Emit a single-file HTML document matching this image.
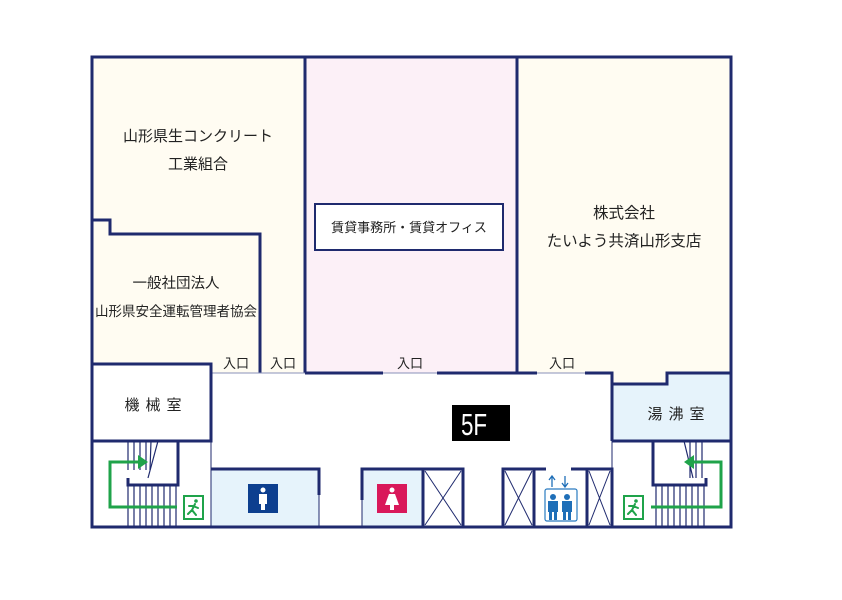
<!DOCTYPE html>
<html><head><meta charset="utf-8"><style>
body{margin:0;background:#fff}
svg text{font-family:"Liberation Sans","Noto Sans CJK JP",sans-serif;fill:#222}
</style></head><body>
<svg width="842" height="595" viewBox="0 0 842 595" xmlns="http://www.w3.org/2000/svg">
<rect x="92" y="57" width="213" height="316" fill="#fffcf2"/>
<rect x="305" y="57" width="212" height="316" fill="#fcf0f7"/>
<polygon points="517,57 731,57 731,373 667,373 667,384 612,384 612,373 517,373" fill="#fffcf2"/>
<polygon points="612,384 667,384 667,373 731,373 731,441 612,441" fill="#e6f3fb"/>
<rect x="92" y="364" width="119" height="77" fill="#fff"/>
<rect x="211" y="469" width="108" height="58" fill="#e6f3fb"/>
<rect x="362" y="469" width="61" height="58" fill="#e6f3fb"/>
<g stroke="#1f2a6e" fill="none">
<path d="M92,57 H731 V527 H92 Z" stroke-width="3"/>
<path d="M305,57 V373 M517,57 V373" stroke-width="3"/>
<path d="M92,220 H110 V234 H260 V373" stroke-width="3"/>
<path d="M211,373 H305" stroke-width="1" stroke="#8890b8"/>
<path d="M305,373 H383 M437,373 H537 M585,373 H612 V384 H667 V373 H731" stroke-width="3"/>
<path d="M383,373 H437 M537,373 H585" stroke-width="1" stroke="#8890b8"/>
<path d="M92,364 H211 V441 H92" stroke-width="3"/>
<path d="M612,384 V441 M612,441 H731" stroke-width="3"/>
<path d="M612,441 V527 M211,441 V527" stroke-width="1"/>
<path d="M178,441 V485 H128 V478" stroke-width="3"/>
<g stroke-width="1.2">
<path d="M128,441 V470 M134,441 V470 M140,441 V470 M146,441 V470 M151,441 L150,470"/>
<path d="M128,485 V527 M134,485 V527 M140,485 V527 M146,485 V527 M152,485 V527 M158,485 V527 M164,485 V527 M170,485 V527 M176,485 V527"/>
<path d="M158,441 L148,478"/>
</g>
<path d="M653,441 V485 H706 V478" stroke-width="3"/>
<g stroke-width="1.2">
<path d="M684,441 L693,478 M690,441 V478 M696,441 V478 M702,441 V478"/>
<path d="M656,485 V527 M662,485 V527 M668,485 V527 M674,485 V527 M680,485 V527 M686,485 V527 M692,485 V527 M698,485 V527 M704,485 V527"/>
</g>
<path d="M211,469 H319 V495" stroke-width="3"/>
<path d="M319,495 V527 M362,500 V527" stroke-width="1"/>
<path d="M362,500 V469 H423 V527" stroke-width="3"/>
<path d="M423,469 H463 V527 M503,527 V469 H546 M571,469 H612 V527 M587,469 V527 M534,469 V527" stroke-width="3"/>
<path d="M425,471 L461,525 M461,471 L425,525 M505,471 L532,525 M532,471 L505,525 M589,471 L610,525 M610,471 L589,525" stroke-width="1"/>
</g>
<g stroke="#1fa34a" stroke-width="3" fill="none">
<path d="M177,507 H110 V462 H140"/>
<path d="M651,507 H721 V462 H692"/>
</g>
<polygon points="148,462 138,455 138,469" fill="#1fa34a"/>
<polygon points="684,462 694,455 694,469" fill="#1fa34a"/>
<g fill="none" stroke="#1fa34a" stroke-width="2"><rect x="184" y="496" width="19" height="23"/><rect x="624" y="496" width="19" height="23"/></g>
<g stroke="#1fa34a" stroke-width="2" fill="none" stroke-linecap="round">
<path d="M195,504 L192,510 L196,515 M192,510 L188,514 M193,506 L198,508 M193,506 L189,506"/>
<path d="M635,504 L632,510 L636,515 M632,510 L628,514 M633,506 L638,508 M633,506 L629,506"/>
</g>
<circle cx="196" cy="501" r="1.8" fill="#1fa34a"/><circle cx="636" cy="501" r="1.8" fill="#1fa34a"/>
<rect x="248" y="484" width="30" height="29" fill="#0d3f8f"/>
<circle cx="263" cy="490" r="2.5" fill="#fff"/><rect x="259" y="494" width="8" height="10" fill="#fff"/><rect x="261" y="503" width="4" height="7" fill="#fff"/>
<rect x="377" y="484" width="30" height="29" fill="#d9185a"/>
<circle cx="392" cy="490" r="2.5" fill="#fff"/><polygon points="389,494 395,494 399,505 385,505" fill="#fff"/><rect x="390" y="504" width="4" height="6" fill="#fff"/>
<rect x="545" y="489" width="32" height="32" rx="2" fill="none" stroke="#2a7bc0" stroke-width="1.2"/>
<g fill="#1f6fb8"><circle cx="553" cy="497" r="3"/><rect x="548" y="501" width="10" height="11"/><rect x="549" y="511" width="3" height="9"/><rect x="554" y="511" width="3" height="9"/>
<circle cx="567" cy="497" r="3"/><rect x="562" y="501" width="10" height="11"/><rect x="563" y="511" width="3" height="9"/><rect x="568" y="511" width="3" height="9"/></g>
<g stroke="#1f6fb8" stroke-width="1.3" fill="none"><path d="M552,487 V477 M549,480 L552,476 L555,480 M565,476 V487 M562,483 L565,487 L568,483"/></g>
<rect x="452" y="405" width="58" height="36" fill="#000"/>
<text x="0" y="0" font-size="28" text-anchor="middle" style="fill:#fff" transform="translate(474,435) scale(0.8,1.1)">5F</text>
<rect x="315" y="204" width="188" height="46" fill="#fff" stroke="#1f2a6e" stroke-width="2"/>
<g text-anchor="middle">
<text x="198" y="141" font-size="15">山形県生コンクリート</text>
<text x="198" y="169" font-size="15">工業組合</text>
<text x="176" y="288" font-size="14.5">一般社団法人</text>
<text x="176" y="316" font-size="13.5">山形県安全運転管理者協会</text>
<text x="409" y="232" font-size="13">賃貸事務所・賃貸オフィス</text>
<text x="624" y="218" font-size="15.5">株式会社</text>
<text x="624" y="246" font-size="15.5">たいよう共済山形支店</text>
<text x="156" y="410" font-size="15" letter-spacing="6">機械室</text>
<text x="679" y="419" font-size="15" letter-spacing="6">湯沸室</text>
</g>
<g font-size="13" text-anchor="middle">
<text x="236" y="368">入口</text>
<text x="283" y="368">入口</text>
<text x="410" y="368">入口</text>
<text x="562" y="368">入口</text>
</g>
</svg>
</body></html>
